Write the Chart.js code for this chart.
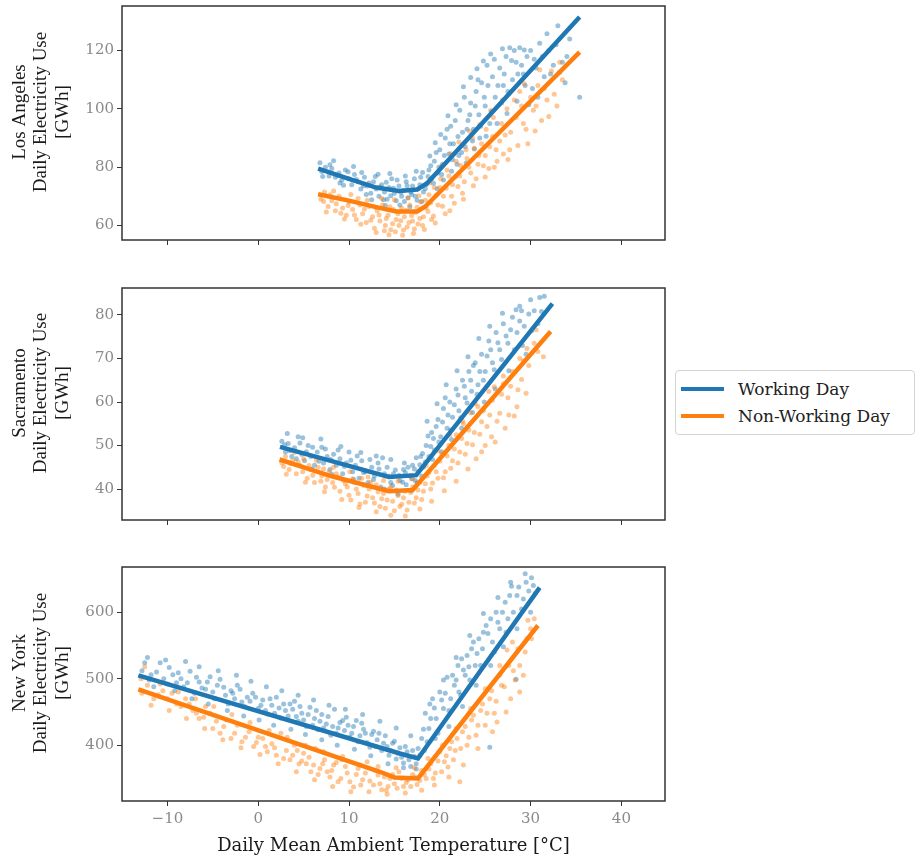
<!DOCTYPE html>
<html>
<head>
<meta charset="utf-8">
<script src="https://cdn.jsdelivr.net/npm/chart.js@4.4.0/dist/chart.umd.min.js"></script>
<style>
  body { margin: 0; background: #fff; width: 921px; height: 865px; position: relative; overflow: hidden; }
  .panel { position: absolute; left: 0; width: 672px; }
  #legend { position: absolute; left: 675px; top: 370px; width: 240px; height: 65px; box-sizing: border-box;
            border: 1px solid #d4d4d4; border-radius: 4px; font-family: 'DejaVu Serif', serif; font-size: 17px; color: #222; }
  #legend .row { position: absolute; left: 0; height: 24px; line-height: 24px; }
  #legend .swatch { position: absolute; left: 5px; top: 10px; width: 43px; height: 4px; }
  #legend .lbl { position: absolute; left: 62px; top: 0; white-space: nowrap; }
</style>
</head>
<body>
<div class="panel" style="top:0;height:252px"><canvas id="laChart"></canvas></div>
<div class="panel" style="top:282px;height:250px"><canvas id="sacChart"></canvas></div>
<div class="panel" style="top:561px;height:304px"><canvas id="nyChart"></canvas></div>
<div id="legend">
  <div class="row" style="top:6px"><div class="swatch" style="background:#1f77b4"></div><div class="lbl">Working Day</div></div>
  <div class="row" style="top:33px"><div class="swatch" style="background:#ff7f0e"></div><div class="lbl">Non-Working Day</div></div>
</div>
<script>
/* ── Axis ticks ───────────────────────────────────────────── */
const X_TICKS = [-10, 0, 10, 20, 30, 40];
const LA_TICKS = [60, 80, 100, 120];
const SAC_TICKS = [40, 50, 60, 70, 80];
const NY_TICKS = [400, 500, 600];

/* ── Fitted change-point lines [temp, GWh] ────────────────── */
const LA_FIT_WORK = [[6.6, 79.5], [10, 76], [13, 73], [15.5, 71.8], [17.5, 72.3], [18.6, 74.5], [35.4, 131.5]];
const LA_FIT_NON  = [[6.6, 70.7], [10, 68.5], [13, 66.3], [15.2, 64.8], [17.5, 64.8], [18.4, 66.5], [35.4, 119.5]];
const SAC_FIT_WORK = [[2.4, 49.7], [8, 46.5], [14.4, 42.8], [17.4, 43.2], [32.4, 82.6]];
const SAC_FIT_NON  = [[2.35, 46.8], [8, 43], [14.4, 39.5], [17, 39.8], [32.2, 76.2]];
const NY_FIT_WORK = [[-13.2, 505], [15.6, 387.5], [17.6, 380], [31, 637]];
const NY_FIT_NON  = [[-13.2, 484], [13.4, 360], [15, 351.5], [17.6, 350], [30.8, 580]];

/* ── Daily observations [temp, GWh] ───────────────────────── */
const LA_WORK = [[6.8,81.5],[7.0,78.5],[7.4,80],[7.8,77],[8.1,79.5],[8.5,76.5],[8.9,78],[9.2,75.5],[9.6,79],[10,76],
  [10.3,74],[10.6,77.5],[11,75],[11.3,72.5],[11.7,76.5],[12,73.5],[12.4,71],[12.7,75],[13,72.5],[13.3,70],
  [13.6,74],[13.9,71.5],[14.2,69],[14.4,73],[14.7,76],[15,71],[15.2,68.5],[15.5,73.5],[15.8,70],[16,72],
  [16.3,75],[16.5,69.5],[16.8,71.5],[17,73.5],[17.3,70],[17.6,72.5],[17.9,76.5],[18.2,71.5],[18.5,74],[18.8,79],
  [19.1,76],[19.4,82],[19.8,78],[20,86],[20.3,81],[20.6,90],[21,84.5],[21.2,94],[21.5,88],[21.9,81],
  [22.2,99.5],[22.5,92],[22.8,87],[23.1,96],[23.4,102],[23.7,93],[24,106],[24.3,98],[24.6,109],[25,101],
  [25.2,115],[25.5,95],[25.8,111],[26.1,104],[26.6,114],[27,108],[27.3,118],[27.7,121],[28,110],[28.4,116],
  [28.8,121],[29.2,112],[29.6,118],[30.2,107],[30.6,114],[31,122.5],[31.5,111],[32,120],[32.5,115],[33,128.5],
  [33.5,116],[33.8,109],[34.3,124],[35.4,104],
  [7.1,76.8],[7.9,80.8],[8.7,77.2],[9.4,73.8],[9.9,78.4],[10.8,75.8],[11.4,78.2],[11.9,70.6],[12.2,74.6],[12.9,76.8],
  [13.4,73.2],[13.8,68.8],[14.1,74.8],[14.6,70.2],[14.9,72.8],[15.3,75.6],[15.7,71.4],[16.1,68.2],[16.4,73.6],[16.9,70.6],
  [17.2,76],[17.5,68.6],[17.8,74],[18.1,78.2],[18.4,72.6],[18.7,76.8],[19,80.5],[19.3,74.5],[19.6,85],[19.9,80],
  [20.2,77.5],[20.5,84],[20.8,93],[21.1,88],[21.4,82.5],[21.7,96],[22,90.5],[22.4,85],[22.7,104],[23,93],
  [23.3,98],[23.6,89],[23.9,101],[24.2,110],[24.5,94],[24.9,104],[25.3,108],[25.7,99],[26,117],[26.4,108],
  [26.8,102],[27.1,112],[27.5,106],[28.2,120],[28.6,112],[29,115],[29.4,108],[30,120],[30.4,117],[31.3,118],
  [32.2,112],[32.8,122],[34,118],
  [8.3,82.2],[9,74.6],[10.5,80.2],[11.6,73.6],[12.5,68.8],[13.2,77.6],[14,66.8],[14.5,77.8],[15.6,67],[16.2,77],
  [16.7,66.4],[17.4,78.6],[18,68.2],[18.9,83.8],[19.5,88.4],[19.7,72.6],[20.1,91.2],[20.4,75.6],[20.9,97.6],[21.3,78.6],
  [21.8,101.4],[22.1,84],[22.6,107.6],[22.9,81.4],[23.4,110.8],[23.8,86.2],[24.1,113.8],[24.4,90],[24.8,116.4],[25.1,90.6],
  [25.6,118.8],[26.3,95],[26.9,120.6],[27.4,98.4],[27.9,116.6],[28.5,102.6],[29.3,120.2],[29.8,101.4],[30.8,104],[31.8,125.8],[33.2,112.6]];
const LA_NON = [[6.9,69],[7.3,71.5],[7.7,66.5],[8.1,68.5],[8.5,65],[8.9,70],[9.3,66],[9.7,63.5],[10,68],[10.4,65.5],
  [10.8,62],[11.2,67],[11.5,64],[11.9,61],[12.2,66.5],[12.6,63],[12.8,59],[13.1,65],[13.4,61.5],[13.7,67],
  [14,60],[14.3,63.5],[14.6,58.5],[14.9,65.5],[15.2,62],[15.5,60],[15.8,66],[16.1,63],[16.4,59.5],[16.7,67],
  [17,61.5],[17.3,64.5],[17.6,60.5],[17.9,68],[18.2,63],[18.5,66],[18.8,70.5],[19.1,62],[19.4,73],[19.8,67],
  [20.1,76],[20.4,70],[20.8,79],[21.1,65],[21.4,74],[21.8,82],[22.2,77],[22.5,71],[22.9,86],[23.2,80],
  [23.6,90],[24,76],[24.3,84],[24.8,80.5],[25.1,93],[25.5,87],[25.9,97],[26.3,82],[26.6,89],[27,84.5],
  [27.4,100],[27.8,92],[28.2,103],[28.8,106],[29.2,95],[29.7,88],[30.3,99.5],[30.8,108],[31.2,96],[31.8,103],
  [32.3,113],[32.9,101],[33.5,110],
  [7.2,68.2],[7.9,70.5],[8.6,67.4],[9.1,64.2],[9.9,66.8],[10.6,63.6],[11,69.2],[11.7,65.6],[12.4,61.8],[12.9,66.2],
  [13.3,63.6],[13.9,58.2],[14.1,62.4],[14.5,66.4],[14.8,60.6],[15.1,57.8],[15.4,64],[15.7,61.6],[16,58.4],[16.3,65.2],
  [16.6,61],[16.9,63.4],[17.2,58.8],[17.5,66.2],[17.8,62.4],[18.1,60],[18.4,68.6],[18.7,64.8],[19,67.8],[19.3,63.2],
  [19.6,70.4],[20,73],[20.3,66.6],[20.7,72.8],[21,77],[21.3,70],[21.7,76.6],[22,73.4],[22.3,80.6],[22.7,75],
  [23,83],[23.4,78],[23.8,86.5],[24.2,81],[24.6,88],[25,84],[25.4,79.5],[25.8,90.5],[26.2,86],[26.8,95],
  [27.2,91],[27.7,86],[28.4,97],[29,101],[29.5,93],[30,104],[30.6,101],[31.5,107],[32.6,105],
  [7.5,64.6],[8.3,71.8],[9.5,62.2],[10.2,70.6],[11.3,60.4],[12,68.6],[13,57.6],[13.6,69.2],[14.4,56.8],[15,68.8],
  [15.9,56.6],[16.5,69.4],[17.1,57.2],[17.7,70.2],[18.3,58.6],[18.9,74.6],[19.5,60.8],[20.2,80.4],[20.6,64],[21.2,84.6],
  [21.6,67.6],[22.1,88.6],[22.6,69],[23.3,92.2],[23.7,73.6],[24.4,94.6],[25,76.6],[25.6,99.4],[26,80],[26.9,103],
  [27.5,82.6],[28.6,87.4],[29.3,108.6],[30.5,92.4],[31,113.4],[32,97.4],[33.2,116]];

const SAC_WORK = [[2.6,51],[3,48.5],[3.3,50.5],[3.7,47.5],[4,49.5],[4.4,52],[4.8,48],[5.1,46.5],[5.5,50],[5.8,47.5],
  [6.2,45.5],[6.5,48.5],[6.9,51.5],[7.2,46],[7.6,47.5],[7.9,44.5],[8.3,48],[8.6,45.5],[9,47],[9.3,43.5],
  [9.7,46],[10,48.5],[10.4,44],[10.7,45.5],[11.1,42.5],[11.4,46.5],[11.8,44],[12.1,41.5],[12.5,45],[12.8,43],
  [13.2,46],[13.5,40.5],[13.9,43.5],[14.2,45],[14.6,41.5],[14.9,43.5],[15.3,39.5],[15.6,42],[16,44.5],[16.3,41],
  [16.7,43],[17,45.5],[17.3,42],[17.6,44],[17.9,47.5],[18.2,45],[18.5,50],[18.8,47.5],[19.1,53],[19.4,49],
  [19.8,56],[20.1,52],[20.4,58.5],[20.8,54],[21.1,60],[21.4,56.5],[21.8,63],[22.1,58],[22.5,65],[22.8,61],
  [23.2,67],[23.5,62.5],[23.9,69],[24.2,64],[24.6,71],[25,67],[25.4,74],[25.8,69],[26.2,76],[26.6,72],
  [27,78],[27.5,73.5],[28,79.5],[28.5,76],[28.8,82],[29,81],[29.5,71],[30,83.5],[30.8,78],[31,84],[31.5,84.3],
  [2.9,50.2],[3.5,48.8],[4.2,47],[4.6,50.6],[5.3,48.6],[6,49.6],[6.7,46.4],[7.4,49.2],[8,46.8],[8.8,49],
  [9.5,45.2],[10.2,46.6],[10.9,47.6],[11.6,43.8],[12.3,46.8],[12.7,42.2],[13.3,44.6],[13.7,47.2],[14.4,43],[14.8,40.8],
  [15.1,44.4],[15.5,43.2],[15.9,41.6],[16.2,43.8],[16.5,45],[16.9,42.4],[17.2,44.6],[17.5,41.4],[17.8,45.6],[18.1,48.2],
  [18.4,46.2],[18.7,52.2],[19,49.8],[19.3,51.6],[19.6,54.4],[19.9,50.8],[20.3,55.4],[20.6,61],[20.9,57],[21.2,53.6],
  [21.6,59.4],[22,61.6],[22.3,56.4],[22.7,63.6],[23,59.8],[23.4,65],[23.7,68.4],[24.1,61.8],[24.4,67],[24.8,65],
  [25.2,70.6],[25.6,72],[26,67.4],[26.4,73.6],[26.8,69.8],[27.3,75.2],[27.8,76.6],[28.2,72],[28.8,78.6],[29.3,77.4],
  [29.8,80.2],[30.4,81],
  [3.2,52.8],[4.9,51.8],[5.9,44.6],[7,49.6],[8.1,43.4],[9.1,49.8],[10.5,42.2],[11.3,48.4],[12,40.8],[13,47.6],
  [13.9,40],[14.6,46.8],[15.4,38.8],[16.1,46],[16.8,39.6],[17.4,47.2],[18,43],[18.6,55.6],[19.2,46.8],[19.7,59.6],
  [20.2,48.6],[20.7,64],[21.3,51.4],[21.9,67.2],[22.4,54],[23.1,70.4],[23.6,57.6],[24.3,74.6],[24.9,60],[25.5,77.4],
  [26.1,63],[26.9,80.4],[27.6,67.2],[28.4,81.2],[29.1,73],[30.1,76.4],[31.2,80.8]];
const SAC_NON = [[2.6,46],[3,47.5],[3.4,44.5],[3.8,46.5],[4.2,43.5],[4.6,45.5],[5,47],[5.4,42.5],[5.8,44.5],[6.2,41.5],
  [6.6,45],[7,43],[7.4,40.5],[7.8,44],[8.2,41.5],[8.6,43.5],[9,39.5],[9.4,42],[9.8,40.5],[10.2,37.5],
  [10.6,41.5],[11,39],[11.4,42.5],[11.8,37],[12.2,40],[12.6,38],[13,41],[13.4,36],[13.8,39],[14.2,37.5],
  [14.6,40.5],[15,35],[15.4,38.5],[15.8,36.5],[16.2,39.5],[16.6,37],[17,40.5],[17.4,38],[17.8,41.5],[18.2,39.5],
  [18.6,43],[19,40],[19.4,45.5],[19.8,42.5],[20.2,48],[20.6,44],[21,50],[21.4,46.5],[21.8,52.5],[22.2,48.5],
  [22.6,55],[23,50.5],[23.4,57.5],[23.8,53],[24,47],[24.2,59],[24.6,55.5],[25,50],[25.5,57],[25.7,52],
  [26,63.5],[26.6,57.4],[27,66],[27.2,54],[27.5,61],[28,67],[28.5,58.9],[28.6,62.8],[29.2,69.5],[29.6,72.3],[30.4,73.5],
  [2.8,45.2],[3.6,45.8],[4.4,46.2],[4.9,44],[5.6,45.4],[6,43.2],[6.9,41.8],[7.2,44.6],[7.6,42.2],[8.4,40.4],
  [8.9,42.8],[9.6,41.2],[10,38.6],[10.4,42.4],[10.8,40],[11.2,36.6],[11.6,40.8],[12,38.4],[12.4,41.6],[12.8,36.8],
  [13.2,39.4],[13.6,37.8],[14,35.6],[14.4,40],[14.8,37.2],[15.2,39.8],[15.6,36],[16,38],[16.4,35.2],[16.8,39.2],
  [17.2,36.8],[17.6,39.8],[18,37.6],[18.4,41.2],[18.8,43.8],[19.2,41.4],[19.6,44],[20,46.4],[20.4,42.6],[20.8,47.6],
  [21.2,44.8],[21.6,49.2],[22,46],[22.4,51.6],[22.8,48],[23.2,53.6],[23.6,50.2],[24.4,52.6],[24.8,58],[25.2,54.4],
  [25.8,60.4],[26.3,55.6],[26.8,61.8],[27.8,63.6],[28.2,56.8],[29,65.2],[29.8,68.4],[30.8,71.6],
  [3.1,43.4],[4,48.4],[5.2,41.6],[6.4,46.6],[7.3,39.4],[8.3,45],[9.2,37.6],[10.1,44],[11.1,35.8],[12.1,42.8],
  [13,34.8],[13.8,42],[14.6,34],[15.4,41.8],[16.2,33.8],[17,42.4],[17.8,35.4],[18.5,45.4],[19.1,37.2],[19.8,48.8],
  [20.5,39.6],[21.1,52.4],[21.8,41.8],[22.5,55.6],[23.1,44.6],[23.9,59.6],[24.6,48.6],[25.4,62.4],[26.1,50.8],[27,64.2],
  [27.6,57],[28.8,70],[29.5,62],[30.6,76.6],[31.4,70.4]];

const NY_WORK = [[-12.5,524],[-12,498],[-11.2,510],[-10.8,524],[-10,492],[-9.4,506],[-8.8,509],[-8.2,488],[-7.5,511],[-7,478],
  [-6.5,495],[-5.8,484],[-5.3,503],[-4.8,470],[-4.2,499],[-3.8,487],[-3.3,462],[-2.8,478],[-2.3,490],[-1.8,465],
  [-1.2,472],[-0.6,478],[0,455],[0.5,468],[1,447],[1.5,460],[2,472],[2.5,441],[3,452],[3.5,462],
  [4,466],[4.4,436],[4.8,448],[5.3,428],[5.7,457],[6.2,440],[6.6,423],[7,446],[7.5,432],[8,415],
  [8.4,454],[8.8,426],[9.3,437],[9.7,442],[10.1,412],[10.5,428],[11,405],[11.4,433],[11.8,418],[12.3,397],
  [12.7,421],[13.1,408],[13.6,392],[14,414],[14.4,385],[14.8,403],[15.2,379],[15.6,396],[16,373],[16.4,390],
  [16.8,368],[17.2,383],[17.6,395],[18,410],[18.4,448],[18.8,425],[19.2,470],[19.6,440],[20,480],[20.4,455],
  [20.8,502],[21.2,470],[21.6,490],[22,520],[22.3,475],[22.6,513],[23,535],[23.3,498],[23.7,555],[24.1,538],
  [24.5,520],[24.8,570],[25.1,580],[25.5,397],[25.8,555],[26.2,600],[26.6,575],[27.2,615],[27.5,590],[27.9,639],
  [28.4,499],[28.5,625],[29,605],[29.5,645],[30.1,652],[30.5,628],
  [-12.8,512],[-11.8,506],[-10.4,500],[-9.8,517],[-9,494],[-8.5,500],[-7.8,494],[-6.8,502],[-6.2,486],[-5.6,495],
  [-5,480],[-4.5,490],[-3.6,475],[-3,482],[-2.6,470],[-2,484],[-1.5,458],[-0.9,466],[-0.3,472],[0.3,460],
  [0.8,452],[1.3,470],[1.8,448],[2.3,456],[2.8,462],[3.3,444],[3.8,454],[4.2,443],[4.6,458],[5,438],
  [5.5,446],[6,430],[6.4,452],[6.8,436],[7.2,426],[7.7,443],[8.2,428],[8.6,418],[9,434],[9.5,422],
  [9.9,430],[10.3,418],[10.8,437],[11.2,414],[11.6,424],[12,404],[12.5,416],[12.9,398],[13.3,418],[13.8,403],
  [14.2,398],[14.6,392],[15,406],[15.4,388],[15.8,382],[16.2,398],[16.6,378],[17,392],[17.4,372],[17.8,385],
  [18.2,424],[18.6,405],[19,440],[19.4,456],[19.8,418],[20.2,468],[20.6,478],[21,452],[21.4,505],[21.8,498],
  [22.1,480],[22.4,530],[22.8,505],[23.2,518],[23.5,545],[23.9,520],[24.3,560],[24.7,545],[25.3,568],[25.6,590],
  [26,540],[26.4,585],[26.9,600],[27.3,570],[27.7,625],[28.1,600],[28.7,638],[29.2,620],[29.8,632],[30.3,640],
  [-12.2,532],[-11.5,488],[-10.2,528],[-9.2,482],[-8,526],[-7.3,470],[-6.5,518],[-5.5,462],[-4.4,512],[-3.4,452],
  [-2.4,505],[-1.6,444],[-0.8,496],[0.1,438],[0.9,488],[1.7,430],[2.6,482],[3.6,424],[4.4,475],[5.2,416],
  [6.1,468],[7,408],[7.8,460],[8.7,400],[9.6,454],[10.6,394],[11.5,446],[12.4,384],[13.4,436],[14.3,372],
  [15.2,426],[16,366],[16.8,414],[17.4,364],[18.3,392],[18.9,462],[19.5,410],[20.4,498],[21,428],[21.8,532],
  [22.5,458],[23.3,565],[24,490],[24.8,598],[25.6,520],[26.4,622],[27,548],[27.8,645],[28.5,575],[29.4,658],[30,600]];
const NY_NON = [[-12.5,518],[-12.8,478],[-11.5,470],[-10.5,482],[-9,462],[-8,470],[-7.2,452],[-6.5,440],[-5.8,458],[-5.3,448],
  [-5,425],[-4.2,418],[-3.5,438],[-3,410],[-2.3,430],[-1.8,405],[-1,420],[-0.5,398],[0,412],[0.5,410],
  [1,390],[1.5,402],[2,385],[2.5,418],[3.1,392],[3.5,378],[4,400],[4.5,372],[5,388],[5.3,372],
  [5.8,360],[6.3,395],[6.8,365],[7.3,378],[7.9,352],[8.3,370],[8.8,345],[9.3,383],[9.8,358],[10.5,337],
  [11,365],[11.5,348],[12,375],[12.7,340],[13.2,355],[13.6,333],[14.1,332],[14.5,350],[15,342],[15.5,360],
  [16,338],[16.5,348],[17,356],[17.5,341],[18,362],[18.5,350],[19,372],[19.5,358],[20,390],[20.5,375],
  [20.9,367],[21.3,405],[21.7,392],[22.2,345],[22.5,420],[23,400],[23.5,438],[24,415],[24.5,452],[25,430],
  [25.5,470],[26,448],[26.3,435],[26.8,490],[27.4,543],[27.8,470],[28.3,498],[28.8,520],[29.2,505],[29.7,588],[30.1,560],
  [-12.2,490],[-11,476],[-10,470],[-9.5,478],[-8.5,458],[-7.6,462],[-6.8,448],[-6,442],[-4.6,436],[-3.8,428],
  [-2.6,418],[-1.4,412],[-0.2,404],[0.8,398],[1.8,396],[2.8,380],[3.8,385],[4.3,392],[4.8,376],[5.6,382],
  [6.1,370],[6.6,356],[7.1,372],[7.6,360],[8.1,362],[8.6,374],[9.1,350],[9.6,368],[10.1,345],[10.8,356],
  [11.3,340],[11.8,358],[12.3,346],[12.9,362],[13.4,342],[13.9,352],[14.3,338],[14.8,356],[15.3,335],[15.8,350],
  [16.3,344],[16.8,338],[17.3,352],[17.8,347],[18.3,356],[18.8,364],[19.3,350],[19.8,376],[20.2,360],[20.7,384],
  [21.1,395],[21.5,378],[21.9,410],[22.3,395],[22.8,428],[23.2,412],[23.7,445],[24.2,430],[24.7,462],[25.2,448],
  [25.7,482],[26.2,466],[26.6,505],[27.1,488],[27.6,520],[28.1,512],[28.6,545],[29.4,540],[30,575],
  [-12.9,500],[-11.8,460],[-10.8,492],[-9.8,452],[-8.8,480],[-7.9,440],[-6.9,470],[-5.9,425],[-4.9,458],[-3.9,408],
  [-2.9,446],[-1.9,396],[-0.9,434],[0.2,386],[1.2,422],[2.2,372],[3.2,412],[4.2,360],[5.2,400],[6.2,348],
  [7.2,390],[8.2,338],[9.2,378],[10.2,330],[11.2,370],[12.2,330],[13.2,368],[14.2,326],[15.2,366],[16.2,328],
  [17.2,366],[18,332],[18.7,380],[19.4,340],[20.3,400],[21,352],[21.8,425],[22.6,370],[23.4,455],[24.2,395],
  [25,485],[25.8,420],[26.6,520],[27.3,450],[28,555],[28.8,480],[29.6,560],[30.4,590]];

/* ── Shared style ─────────────────────────────────────────── */
const BLUE = '#1f77b4';
const ORANGE = '#ff7f0e';
const FRAME = '#333333';
const TICK_FONT = { family: "'DejaVu Serif', serif", size: 15 };
const TICK_COLOR = '#8a8a8a';

const toXY = arr => arr.map(([x, y]) => ({ x, y }));
const fmt = v => (v < 0 ? '\u2212' + Math.abs(v) : String(v));

// matplotlib-style closed frame around the plot area
const framePlugin = {
  id: 'frame',
  afterDraw(chart) {
    const { ctx, chartArea: a } = chart;
    ctx.save();
    ctx.strokeStyle = FRAME;
    ctx.lineWidth = 1.5;
    ctx.strokeRect(a.left, a.top, a.right - a.left, a.bottom - a.top);
    ctx.restore();
  }
};

// three-line rotated y label, sitting a little above the axis centre like the original
const yLabelPlugin = {
  id: 'yLabel',
  afterDraw(chart, args, opts) {
    const { ctx, chartArea: a } = chart;
    const cy = (a.top + a.bottom) / 2 - 11;
    ctx.save();
    ctx.fillStyle = '#1a1a1a';
    ctx.font = "19px 'Liberation Serif', serif";
    ctx.textAlign = 'center';
    ctx.textBaseline = 'middle';
    opts.lines.forEach((line, i) => {
      ctx.save();
      ctx.translate(20 + i * 21.5, cy);
      ctx.rotate(-Math.PI / 2);
      ctx.fillText(line, 0, 0);
      ctx.restore();
    });
    ctx.restore();
  }
};

function makePanel(id, cfg) {
  const ctx = document.getElementById(id);
  new Chart(ctx, {
    type: 'scatter',
    data: {
      datasets: [
        { data: toXY(cfg.fitWork), showLine: true, borderColor: BLUE, borderWidth: 4.5, pointRadius: 0, tension: 0 },
        { data: toXY(cfg.fitNon), showLine: true, borderColor: ORANGE, borderWidth: 4.5, pointRadius: 0, tension: 0 },
        { data: toXY(cfg.non), pointRadius: 2.5, borderWidth: 0, backgroundColor: 'rgba(255,127,14,0.45)' },
        { data: toXY(cfg.work), pointRadius: 2.5, borderWidth: 0, backgroundColor: 'rgba(31,119,180,0.45)' },
      ]
    },
    options: {
      responsive: true,
      maintainAspectRatio: false,
      animation: false,
      layout: { padding: { top: 6, right: 7, left: 0, bottom: 0 } },
      plugins: {
        legend: { display: false },
        tooltip: { enabled: false },
        yLabel: { lines: cfg.title }
      },
      scales: {
        x: {
          type: 'linear', min: -15, max: 44.8,
          afterBuildTicks: s => { s.ticks = X_TICKS.map(v => ({ value: v })); },
          afterFit: s => { s.height = cfg.xHeight; s.paddingLeft = 0; s.paddingRight = 0; },
          border: { display: false },
          grid: { drawOnChartArea: false, drawTicks: true, tickLength: 5, color: FRAME, lineWidth: 1 },
          ticks: {
            display: cfg.showX, font: TICK_FONT, color: TICK_COLOR, padding: 4, maxRotation: 0,
            callback: v => fmt(v)
          },
          title: {
            display: cfg.showX,
            text: 'Daily Mean Ambient Temperature [°C]',
            font: { family: "'DejaVu Serif', serif", size: 18 },
            color: '#1a1a1a',
            padding: { top: 0, bottom: 8 }
          }
        },
        y: {
          type: 'linear', min: cfg.yMin, max: cfg.yMax,
          afterBuildTicks: s => { s.ticks = cfg.yTicks.map(v => ({ value: v })); },
          afterFit: s => { s.width = 122; s.paddingTop = 0; s.paddingBottom = 0; },
          border: { display: false },
          grid: { drawOnChartArea: false, drawTicks: true, tickLength: 5, color: FRAME, lineWidth: 1 },
          ticks: { font: TICK_FONT, color: TICK_COLOR, padding: 3 }
        }
      }
    },
    plugins: [framePlugin, yLabelPlugin]
  });
}

makePanel('laChart', {
  fitWork: LA_FIT_WORK, fitNon: LA_FIT_NON, work: LA_WORK, non: LA_NON,
  yMin: 55, yMax: 135.3, yTicks: LA_TICKS, xHeight: 12, showX: false,
  title: ['Los Angeles', 'Daily Electricity Use', '[GWh]']
});
makePanel('sacChart', {
  fitWork: SAC_FIT_WORK, fitNon: SAC_FIT_NON, work: SAC_WORK, non: SAC_NON,
  yMin: 32.9, yMax: 86.2, yTicks: SAC_TICKS, xHeight: 12, showX: false,
  title: ['Sacramento', 'Daily Electricity Use', '[GWh]']
});
makePanel('nyChart', {
  fitWork: NY_FIT_WORK, fitNon: NY_FIT_NON, work: NY_WORK, non: NY_NON,
  yMin: 316, yMax: 668, yTicks: NY_TICKS, xHeight: 64, showX: true,
  title: ['New York', 'Daily Electricity Use', '[GWh]']
});
</script>
</body>
</html>
